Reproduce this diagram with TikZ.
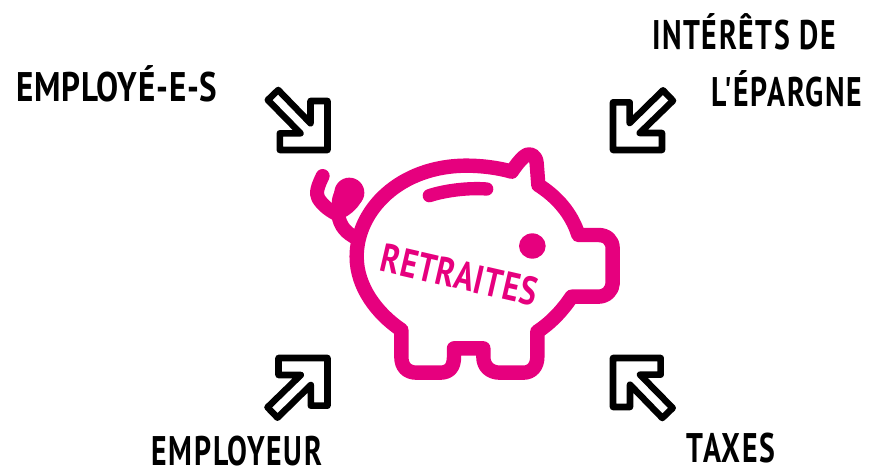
\documentclass[tikz,border=0pt]{standalone}
\usepackage{fontspec}
\newfontfamily\handfont[FakeStretch=0.72,LetterSpace=4]{PT Sans}
\newfontfamily\handfontwide[FakeStretch=0.8,LetterSpace=2]{PT Sans}
\definecolor{pigpink}{HTML}{E6007E}
\tikzset{%
  label/.style = {font=\handfont\fontsize{31}{31}\selectfont\bfseries, text=black, inner sep=0pt},
  labelwide/.style = {label, font=\handfontwide\fontsize{31}{31}\selectfont\bfseries},
  piglabel/.style = {font=\handfontwide\fontsize{30}{30}\selectfont\bfseries, text=pigpink, inner sep=0pt},
  pigline/.style = {draw=pigpink, line width=10.8pt, line join=round, line cap=round},
  pics/bigarrow/.style = {code={
    \draw[line width=4.9pt, line join=round]
      (-19.3,-30) -- (-29.7,-20) -- (3,13.3) -- (-17.7,13.3) -- (-17.7,30)
      -- (30,30) -- (30,-19) -- (13,-19) -- (13,3.3) -- cycle;
  }},
}
\begin{document}
\begin{tikzpicture}[x=0.75pt, y=-0.75pt]
  \useasboundingbox (0,0) rectangle (884,473);

  \pic[rotate=0]   at (297.5,120) {bigarrow};
  \pic[rotate=-90] at (643,120)   {bigarrow};
  \pic[rotate=90]  at (297.5,388) {bigarrow};
  \pic[rotate=180] at (643,388)   {bigarrow};

  \node (lblEmployes)  [labelwide] at (117,84) {EMPLOYÉ-E-S};
  \node (lblInterets)  [label] at (744,32)  {INTÉRÊTS DE};
  \node (lblEpargne)   [label] at (787,89)  {L'ÉPARGNE};
  \node (lblEmployeur) [label] at (237,451) {EMPLOYEUR};
  \node (lblTaxes)     [label] at (731,448) {TAXES};

  % pig
  \begin{scope}[shift={(300,140)}, x=0.25pt, y=-0.25pt]
    \draw[pigline]
      (635,95) .. controls (590,82) and (540,77) .. (500,77)
      .. controls (300,77) and (170,210) .. (170,350)
      .. controls (170,440) and (230,520) .. (304,570)
      -- (304,650) .. controls (304,680) and (320,698) .. (350,698)
      -- (420,698) .. controls (450,698) and (462,680) .. (462,650)
      -- (462,625) -- (550,625) -- (550,650)
      .. controls (550,680) and (570,698) .. (600,698)
      -- (670,698) .. controls (695,698) and (712,680) .. (712,650)
      -- (712,575) .. controls (750,550) and (785,515) .. (815,470)
      -- (895,470) .. controls (920,470) and (938,450) .. (938,430)
      -- (938,325) .. controls (938,300) and (920,285) .. (895,285)
      -- (835,285) .. controls (815,220) and (770,170) .. (715,135)
      -- (710,70) .. controls (708,45) and (690,35) .. (672,50)
      .. controls (660,60) and (645,80) .. (635,95);
    % tail
    \draw[pigline, line width=10.5pt]
      (68,108) .. controls (55,135) and (45,160) .. (55,175)
      .. controls (70,200) and (95,215) .. (115,225)
      .. controls (120,260) and (140,280) .. (170,295);
    \fill[pigpink] (148,158) circle [radius=45];
    \fill[pigpink] (105,150) .. controls (92,180) and (92,195) .. (105,235)
      -- (135,232) .. controls (165,215) and (185,190) .. (192,165) -- cycle;
    % slot and eye
    \draw[pigline, line width=10pt] (388,167) .. controls (440,150) and (510,143) .. (560,147);
    \fill[pigpink] (697,318) ellipse [x radius=40, y radius=38];
    \node (lblRetraites) [piglabel, rotate=-13] at (478,405) {RETRAITES};
  \end{scope}
\end{tikzpicture}
\end{document}
